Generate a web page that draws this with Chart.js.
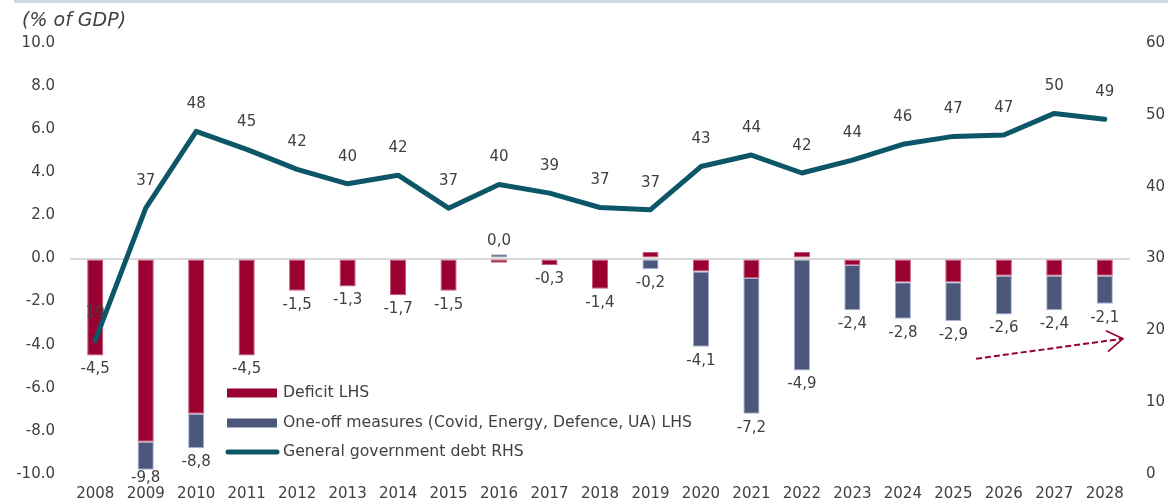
<!DOCTYPE html>
<html>
<head>
<meta charset="utf-8">
<script src="https://cdn.jsdelivr.net/npm/chart.js@4"></script>
<style>
  html, body { margin: 0; padding: 0; background: #fff; overflow: hidden; }
  #wrap { position: relative; width: 1168px; height: 502px; }
</style>
</head>
<body>
<div id="wrap"><canvas id="chart" width="1168" height="502"></canvas></div>
<script>
const years = ['2008', '2009', '2010', '2011', '2012', '2013', '2014', '2015', '2016', '2017', '2018',
  '2019', '2020', '2021', '2022', '2023', '2024', '2025', '2026', '2027', '2028'];
const deficit = [-4.5, -8.5, -7.2, -4.5, -1.5, -1.3, -1.7, -1.5, -0.2, -0.3, -1.4,
  0.3, -0.6, -0.9, 0.3, -0.3, -1.1, -1.1, -0.8, -0.8, -0.8];
const oneOff = [0, -1.3, -1.6, 0, 0, 0, 0, 0, 0.2, 0, 0,
  -0.5, -3.5, -6.3, -5.2, -2.1, -1.7, -1.8, -1.8, -1.6, -1.3];
const debt = [18.6, 37.0, 47.7, 45.2, 42.4, 40.4, 41.6, 37.0, 40.3, 39.1, 37.1,
  36.8, 42.8, 44.4, 41.9, 43.7, 45.9, 47.0, 47.2, 50.2, 49.4];

const RED = '#9a0030';
const BLUE = '#4b587c';
const TEAL = '#0c5667';
const TEXT = '#404040';
const FONT = '"DejaVu Sans", Verdana, sans-serif';

const fmt = v => v.toFixed(1).replace('.', ',');

// labels, legend, title, arrow
const extras = {
  id: 'extras',
  afterDatasetsDraw(chart) {
    const ctx = chart.ctx;
    const x = chart.scales.x, y = chart.scales.y, y1 = chart.scales.y1;
    ctx.save();
    ctx.font = '15px ' + FONT;
    ctx.fillStyle = TEXT;
    ctx.textAlign = 'center';
    ctx.textBaseline = 'middle';

    // totals under the stacked bars
    years.forEach((yr, i) => {
      const a = deficit[i], b = oneOff[i];
      const total = a + b;
      const neg = Math.min(a, 0) + Math.min(b, 0);
      const pos = Math.max(a, 0) + Math.max(b, 0);
      const px = x.getPixelForValue(i);
      if (Math.abs(total) < 0.05) {
        ctx.fillText(fmt(0), px, y.getPixelForValue(pos) - 13);
      } else {
        const ly = Math.min(y.getPixelForValue(neg) + 14, chart.chartArea.bottom + 4);
        ctx.fillText(fmt(total), px, ly);
      }
    });

    // debt labels
    debt.forEach((v, i) => {
      ctx.fillText(String(Math.round(v)), x.getPixelForValue(i), y1.getPixelForValue(v) - 27);
    });

    // dashed arrow
    const x0 = x.getPixelForValue(17.45), yA = y.getPixelForValue(-4.65);
    const x1 = x.getPixelForValue(20.36), yB = y.getPixelForValue(-3.72);
    ctx.strokeStyle = RED;
    ctx.lineWidth = 2;
    ctx.setLineDash([6, 3]);
    ctx.beginPath();
    ctx.moveTo(x0, yA);
    ctx.lineTo(x1, yB);
    ctx.stroke();
    ctx.setLineDash([]);
    ctx.lineWidth = 1.6;
    ctx.beginPath();
    ctx.moveTo(x1 - 17, yB - 8);
    ctx.lineTo(x1, yB);
    ctx.lineTo(x1 - 15, yB + 13);
    ctx.stroke();

    // legend
    const items = chart.data.datasets;
    const rows = [393, 423, 452];
    ctx.textAlign = 'left';
    ctx.font = '15.7px ' + FONT;
    items.forEach((ds, k) => {
      const ly = rows[k];
      if (ds.type === 'line') {
        ctx.strokeStyle = ds.borderColor;
        ctx.lineWidth = 5;
        ctx.lineCap = 'round';
        ctx.beginPath();
        ctx.moveTo(228, ly);
        ctx.lineTo(277, ly);
        ctx.stroke();
      } else {
        ctx.fillStyle = ds.backgroundColor;
        ctx.fillRect(227, ly - 4.5, 50, 9);
      }
      ctx.fillStyle = TEXT;
      ctx.fillText(ds.label, 283, ly);
    });

    // title and top band
    ctx.font = 'italic 19px ' + FONT;
    ctx.fillText('(% of GDP)', 22, 21);
    ctx.fillStyle = '#cfd9de';
    ctx.fillRect(14, 0, 1154, 3);
    ctx.restore();
  }
};

new Chart(document.getElementById('chart'), {
  data: {
    labels: years,
    datasets: [
      {
        type: 'bar',
        label: 'Deficit LHS',
        data: deficit,
        backgroundColor: RED,
        borderColor: '#c45a78',
        borderWidth: 1,
        borderSkipped: false,
        yAxisID: 'y',
        stack: 'bal',
        order: 1,
        barPercentage: 0.32,
        categoryPercentage: 1
      },
      {
        type: 'bar',
        label: 'One-off measures (Covid, Energy, Defence, UA) LHS',
        data: oneOff,
        backgroundColor: BLUE,
        borderColor: '#a9b2cf',
        borderWidth: 1,
        borderSkipped: false,
        yAxisID: 'y',
        stack: 'bal',
        order: 2,
        barPercentage: 0.32,
        categoryPercentage: 1
      },
      {
        type: 'line',
        label: 'General government debt RHS',
        data: debt,
        borderColor: TEAL,
        borderWidth: 5,
        borderJoinStyle: 'round',
        borderCapStyle: 'round',
        pointRadius: 0,
        tension: 0,
        yAxisID: 'y1',
        order: 0
      }
    ]
  },
  options: {
    responsive: false,
    animation: false,
    layout: { padding: { top: 43, left: 0, right: 0, bottom: 0 } },
    plugins: {
      legend: { display: false },
      tooltip: { enabled: false },
      title: { display: false }
    },
    scales: {
      x: {
        stacked: true,
        afterFit(scale) { scale.height = 28; },
        grid: { display: false, drawTicks: false },
        border: { display: false },
        ticks: {
          color: TEXT,
          font: { family: FONT, size: 15 },
          padding: 11,
          maxRotation: 0,
          autoSkip: false
        }
      },
      y: {
        position: 'left',
        stacked: true,
        min: -10,
        max: 10,
        afterFit(scale) { scale.width = 70; },
        grid: {
          drawTicks: false,
          lineWidth: 2,
          color: c => c.tick.value === 0 ? '#d9d9d9' : 'rgba(0,0,0,0)'
        },
        border: { display: false },
        ticks: {
          stepSize: 2,
          padding: 15,
          color: TEXT,
          font: { family: FONT, size: 15 },
          callback: v => v.toFixed(1)
        }
      },
      y1: {
        position: 'right',
        min: 0,
        max: 60,
        afterFit(scale) { scale.width = 38; },
        grid: { display: false, drawTicks: false },
        border: { display: false },
        ticks: {
          stepSize: 10,
          padding: 16,
          color: TEXT,
          font: { family: FONT, size: 15 }
        }
      }
    }
  },
  plugins: [extras]
});
</script>
</body>
</html>
